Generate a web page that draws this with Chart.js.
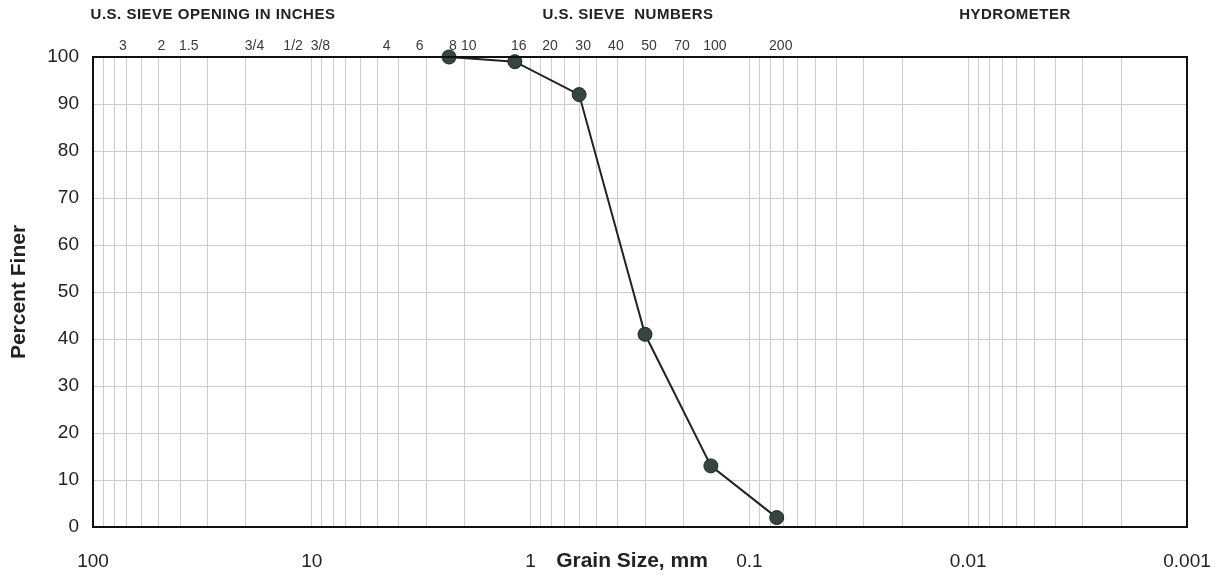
<!DOCTYPE html>
<html>
<head>
<meta charset="utf-8">
<script src="https://cdn.jsdelivr.net/npm/chart.js@4/dist/chart.umd.min.js"></script>
<style>
  html, body { margin: 0; padding: 0; background: #fff; }
  #wrap { width: 1216px; height: 575px; }
</style>
</head>
<body>
<div id="wrap"><canvas id="grad"></canvas></div>
<script>
(function () {
  'use strict';

  // sieve test results
  var grainSize = [2.36, 1.18, 0.6, 0.3, 0.15, 0.075];
  var percentFiner = [100, 99, 92, 41, 13, 2];

  // top axis: sieve openings (mm) and their names
  var sieveSizes = [76.2, 50.8, 38.1, 19.05, 12.7, 9.525, 4.75, 3.35, 2.36, 2.0,
    1.18, 0.85, 0.6, 0.425, 0.3, 0.212, 0.15, 0.075];
  var sieveLabels = ['3', '2', '1.5', '3/4', '1/2', '3/8', '4', '6', '8', '10',
    '16', '20', '30', '40', '50', '70', '100', '200'];

  var headers = ['U.S. SIEVE OPENING IN INCHES', 'U.S. SIEVE  NUMBERS', 'HYDROMETER'];
  var headerX = [213, 628, 1015];

  var narrow = '"Liberation Sans Narrow", "Liberation Sans", Arial, sans-serif';
  var sans = '"Liberation Sans", Arial, sans-serif';

  // log grid lines 1..9 per decade
  var gridVals = [];
  for (var e = -3; e < 2; e++) {
    for (var k = 1; k < 10; k++) {
      gridVals.push(Number((k * Math.pow(10, e)).toPrecision(3)));
    }
  }
  gridVals.push(100);

  var frame = {
    id: 'frame',
    afterDatasetsDraw: function (chart) {
      var a = chart.chartArea, ctx = chart.ctx;
      ctx.save();
      ctx.strokeStyle = '#111';
      ctx.lineWidth = 2;
      ctx.strokeRect(a.left, a.top, a.right - a.left, a.bottom - a.top);
      ctx.restore();
    },
    afterDraw: function (chart) {
      var ctx = chart.ctx;
      ctx.save();
      ctx.fillStyle = '#222';
      ctx.textAlign = 'center';
      ctx.textBaseline = 'middle';
      ctx.font = 'bold 15px ' + sans;
      ctx.letterSpacing = '0.5px';
      headers.forEach(function (h, i) { ctx.fillText(h, headerX[i], 15); });
      ctx.letterSpacing = '0px';
      ctx.font = 'bold 21px ' + sans;
      ctx.fillText('Grain Size, mm', 632, 561);
      ctx.restore();
    }
  };

  var points = grainSize.map(function (g, i) { return {x: g, y: percentFiner[i]}; });

  new Chart(document.getElementById('grad'), {
    type: 'scatter',
    data: {
      datasets: [{
        data: points,
        showLine: true,
        borderColor: '#222',
        borderWidth: 2,
        pointRadius: 7,
        pointBackgroundColor: '#34463e',
        pointBorderColor: '#1c2823',
        pointBorderWidth: 1,
        clip: false
      }]
    },
    plugins: [frame],
    options: {
      responsive: true,
      maintainAspectRatio: false,
      animation: false,
      layout: { padding: { left: 0, right: 29, top: 0, bottom: 0 } },
      plugins: { legend: { display: false }, tooltip: { enabled: false } },
      scales: {
        x: {
          type: 'logarithmic',
          reverse: true,
          min: 0.001,
          max: 100,
          afterBuildTicks: function (s) {
            s.ticks = gridVals.map(function (v) { return {value: v}; });
          },
          afterFit: function (s) { s.height = 48; },
          grid: { color: '#cdcdcd', lineWidth: 1, drawTicks: false },
          border: { display: false },
          ticks: {
            autoSkip: false,
            maxRotation: 0,
            padding: 23,
            color: '#222',
            font: { family: narrow, size: 19 },
            callback: function (v) {
              var l = Math.log10(v);
              return Math.abs(l - Math.round(l)) < 1e-6 ? String(v) : '';
            }
          }
        },
        x2: {
          type: 'logarithmic',
          position: 'top',
          reverse: true,
          min: 0.001,
          max: 100,
          afterBuildTicks: function (s) {
            s.ticks = sieveSizes.map(function (v) { return {value: v}; });
          },
          afterFit: function (s) { s.height = 57; },
          grid: { display: false, drawTicks: false },
          border: { display: false },
          ticks: {
            autoSkip: false,
            maxRotation: 0,
            padding: 2,
            labelOffset: 4,
            color: '#3a3a3a',
            font: { family: sans, size: 14 },
            callback: function (v, i) { return sieveLabels[i]; }
          }
        },
        y: {
          min: 0,
          max: 100,
          afterFit: function (s) { s.width = 93; },
          grid: { color: '#cdcdcd', lineWidth: 1, drawTicks: false },
          border: { display: false },
          ticks: {
            stepSize: 5,
            padding: 14,
            color: '#222',
            font: { family: narrow, size: 19 },
            callback: function (v) { return v % 10 === 0 ? v : ''; }
          },
          title: {
            display: true,
            text: 'Percent Finer',
            color: '#222',
            padding: { top: 7, bottom: 0 },
            font: { family: sans, size: 21, weight: 'bold' }
          }
        }
      }
    }
  });
}());
</script>
</body>
</html>
